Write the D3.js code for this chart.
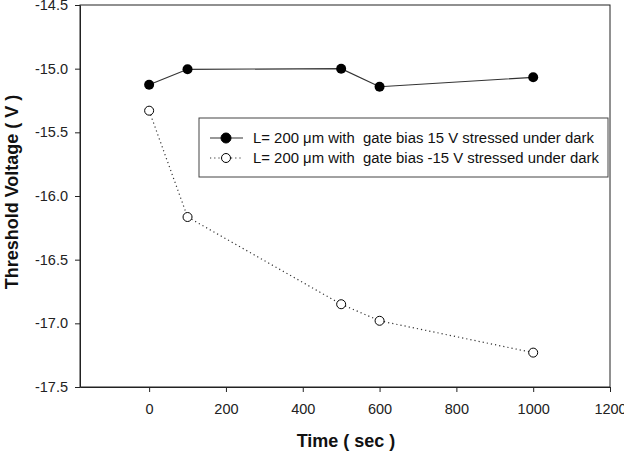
<!DOCTYPE html>
<html>
<head>
<meta charset="utf-8">
<script src="https://cdn.jsdelivr.net/npm/d3@7"></script>
<style>
  body { margin: 0; background: #fff; }
  text { font-family: "Liberation Sans", Arial, sans-serif; }
</style>
</head>
<body>
<svg id="chart" width="624" height="464"></svg>
<script>
// stress time (sec) and threshold voltage readings
var times = [0, 100, 500, 600, 1000];
var vthPos = [-15.126, -15.005, -15.0, -15.142, -15.068];   // gate bias 15 V
var vthNeg = [-15.33, -16.165, -16.85, -16.98, -17.23];      // gate bias -15 V
var xTicks = [0, 200, 400, 600, 800, 1000, 1200];
var yTicks = [-14.5, -15.0, -15.5, -16.0, -16.5, -17.0, -17.5];
var legendLabels = ["L= 200 \u03bcm with  gate bias 15 V stressed under dark",
                    "L= 200 \u03bcm with  gate bias -15 V stressed under dark"];

var svg = d3.select("#chart"),
    pLeft = 80, pRight = 610, pTop = 5, pBottom = 387;

var x = d3.scaleLinear().domain([-180, 1200]).range([pLeft, pRight]);
var y = d3.scaleLinear().domain([-17.5, -14.5]).range([pBottom, pTop]);

// frame
svg.append("rect")
    .attr("x", pLeft).attr("y", pTop)
    .attr("width", pRight - pLeft).attr("height", pBottom - pTop)
    .attr("fill", "none").attr("stroke", "#222").attr("stroke-width", 1);

// plain hyphen for the minus sign, like the original
var yFmt = function(d) { return d.toFixed(1).replace("\u2212", "-"); };

var xAxis = d3.axisBottom(x).tickValues(xTicks).tickSizeInner(5).tickSizeOuter(0)
    .tickPadding(6).tickFormat(d3.format("d"));
var yAxis = d3.axisLeft(y).tickValues(yTicks).tickSizeInner(5).tickSizeOuter(0)
    .tickPadding(7).tickFormat(yFmt);

var gx = svg.append("g").attr("transform", "translate(0," + pBottom + ")").call(xAxis);
var gy = svg.append("g").attr("transform", "translate(" + pLeft + ",0)").call(yAxis);
[gx, gy].forEach(function(g) {
    g.select(".domain").attr("stroke", "#222");
    g.selectAll(".tick line").attr("stroke", "#222");
    g.selectAll("text").attr("font-size", 14.5).attr("fill", "#222")
        .style("font-family", "Liberation Sans, Arial, sans-serif");
});
gx.selectAll("text").attr("dy", "1.1em");

// axis titles
svg.append("text")
    .attr("x", 346).attr("y", 447)
    .attr("text-anchor", "middle")
    .attr("font-size", 18).attr("font-weight", "bold").attr("fill", "#111")
    .text("Time ( sec )");

svg.append("text")
    .attr("transform", "translate(18,192) rotate(-90)")
    .attr("text-anchor", "middle")
    .attr("font-size", 18).attr("font-weight", "bold").attr("fill", "#111")
    .text("Threshold Voltage ( V )");

var line = d3.line()
    .x(function(d) { return x(d[0]); })
    .y(function(d) { return y(d[1]); });

var posData = d3.zip(times, vthPos),
    negData = d3.zip(times, vthNeg);

svg.append("path").datum(negData)
    .attr("d", line).attr("fill", "none")
    .attr("stroke", "#333").attr("stroke-width", 1.2)
    .attr("stroke-dasharray", "1.2,3");

svg.append("path").datum(posData)
    .attr("d", line).attr("fill", "none")
    .attr("stroke", "#333").attr("stroke-width", 1.2);

svg.selectAll(".dpos").data(posData).enter().append("circle")
    .attr("class", "dpos")
    .attr("cx", function(d) { return x(d[0]); })
    .attr("cy", function(d) { return y(d[1]); })
    .attr("r", 5).attr("fill", "#000");

svg.selectAll(".dneg").data(negData).enter().append("circle")
    .attr("class", "dneg")
    .attr("cx", function(d) { return x(d[0]); })
    .attr("cy", function(d) { return y(d[1]); })
    .attr("r", 4.5).attr("fill", "#fff").attr("stroke", "#000").attr("stroke-width", 1);

// legend
var lg = svg.append("g");
lg.append("rect")
    .attr("x", 199).attr("y", 118).attr("width", 409).attr("height", 59)
    .attr("fill", "#fff").attr("stroke", "#444").attr("stroke-width", 1);

[138, 158].forEach(function(ly, i) {
    lg.append("line")
        .attr("x1", 210).attr("x2", 243).attr("y1", ly).attr("y2", ly)
        .attr("stroke", "#333").attr("stroke-width", 1.2)
        .attr("stroke-dasharray", i == 0 ? null : "1.2,3");
    lg.append("circle")
        .attr("cx", 226).attr("cy", ly)
        .attr("r", i == 0 ? 5 : 4.5)
        .attr("fill", i == 0 ? "#000" : "#fff")
        .attr("stroke", "#000");
    lg.append("text")
        .attr("x", 253).attr("y", ly).attr("dy", "0.35em")
        .attr("font-size", 14.9).attr("fill", "#111")
        .style("white-space", "pre")
        .text(legendLabels[i]);
});
</script>
</body>
</html>
